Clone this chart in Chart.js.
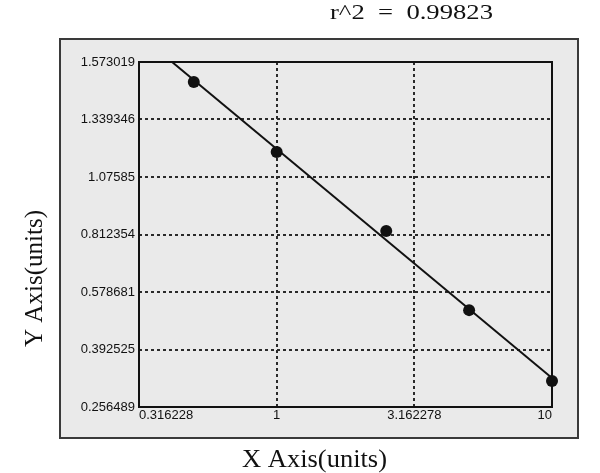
<!DOCTYPE html>
<html>
<head>
<meta charset="utf-8">
<script src="https://cdn.jsdelivr.net/npm/chart.js@4"></script>
<style>
  html, body { margin: 0; padding: 0; background: #fff; }
  #wrap { width: 600px; height: 473px; position: relative; }
</style>
</head>
<body>
<div id="wrap"><canvas id="curveChart"></canvas></div>
<script>
// Standard curve: log x axis, y axis labelled at uneven values spaced evenly
const xTickLabels = ['0.316228', '1', '3.162278', '10'];
const yTickLabels = ['0.256489', '0.392525', '0.578681', '0.812354', '1.07585', '1.339346', '1.573019'];
const xTickValues = xTickLabels.map(Number);
const yTickValues = yTickLabels.map(Number);

const concentration = [0.5, 1, 2.5, 5, 10];
const response = [1.492, 1.190, 0.828, 0.520, 0.318];

// fitted line
const fitX = [0.417, 10];
const fitY = [1.573019, 0.325];

const rSquared = 'r^2  =  0.99823';
const xTitle = 'X Axis(units)';
const yTitle = 'Y Axis(units)';

// y scale where every labelled value gets the same spacing, linear in between
class StepLinearScale extends Chart.LinearScale {
    static id = 'stepLinear';
    static defaults = Chart.LinearScale.defaults;
    determineDataLimits() {
        this.min = yTickValues[0];
        this.max = yTickValues[yTickValues.length - 1];
    }
    buildTicks() {
        return yTickValues.map(v => ({ value: v }));
    }
    toDecimal(v) {
        const t = yTickValues, n = t.length - 1;
        let i = 0;
        while (i < n - 1 && v > t[i + 1]) i++;
        return (i + (v - t[i]) / (t[i + 1] - t[i])) / n;
    }
    getPixelForValue(v) {
        return this.getPixelForDecimal(this.toDecimal(v));
    }
    getValueForPixel(p) {
        const t = yTickValues, n = t.length - 1;
        const d = Math.min(Math.max(this.getDecimalForPixel(p) * n, 0), n);
        const i = Math.min(Math.floor(d), n - 1);
        return t[i] + (d - i) * (t[i + 1] - t[i]);
    }
}
Chart.register(StepLinearScale);

function fittedText(ctx, text, x, y, font, width, angle) {
    ctx.save();
    ctx.font = font;
    const w = ctx.measureText(text).width;
    ctx.translate(x, y);
    ctx.rotate(angle || 0);
    ctx.scale(width / w, 1);
    ctx.fillStyle = '#111';
    ctx.textBaseline = 'alphabetic';
    ctx.textAlign = 'left';
    ctx.fillText(text, 0, 0);
    ctx.restore();
}

const framePlugin = {
    id: 'frame',
    beforeDraw(chart) {
        const ctx = chart.ctx;
        ctx.save();
        ctx.fillStyle = '#ffffff';
        ctx.fillRect(0, 0, chart.width, chart.height);
        ctx.fillStyle = '#eaeaea';
        ctx.fillRect(60, 39, 518, 399);
        ctx.strokeStyle = '#3a3a3a';
        ctx.lineWidth = 2;
        ctx.strokeRect(60, 39, 518, 399);
        ctx.restore();
    },
    beforeDatasetsDraw(chart) {
        const a = chart.chartArea, ctx = chart.ctx;
        ctx.save();
        ctx.strokeStyle = '#111';
        ctx.lineWidth = 2;
        ctx.strokeRect(a.left, a.top, a.right - a.left, a.bottom - a.top);
        ctx.restore();
    },
    afterDraw(chart) {
        const ctx = chart.ctx;
        const serif = '"Liberation Serif", "Times New Roman", serif';
        fittedText(ctx, rSquared, 330, 19, '22px ' + serif, 163);
        fittedText(ctx, xTitle, 242, 467, '25px ' + serif, 145);
        fittedText(ctx, yTitle, 42, 347, '25px ' + serif, 137, -Math.PI / 2);
    }
};

const tickFont = { family: '"Liberation Sans", Arial, sans-serif', size: 13 };

const ctx = document.getElementById('curveChart').getContext('2d');
const curveChart = new Chart(ctx, {
    type: 'scatter',
    data: {
        datasets: [{
            label: 'Standards',
            data: concentration.map((x, i) => ({ x: x, y: response[i] })),
            backgroundColor: '#111',
            borderColor: '#111',
            pointRadius: 6,
            pointBorderWidth: 0,
            clip: false
        }, {
            label: 'Fit',
            data: fitX.map((x, i) => ({ x: x, y: fitY[i] })),
            showLine: true,
            borderColor: '#111',
            borderWidth: 2,
            pointRadius: 0
        }]
    },
    options: {
        responsive: true,
        maintainAspectRatio: false,
        animation: false,
        layout: {
            padding: { left: 60, top: 62, right: 48, bottom: 36 }
        },
        plugins: {
            legend: { display: false },
            tooltip: { enabled: false },
            title: { display: false }
        },
        scales: {
            x: {
                type: 'logarithmic',
                bounds: 'data',
                min: xTickValues[0],
                max: xTickValues[xTickValues.length - 1],
                afterBuildTicks: s => { s.ticks = xTickValues.map(v => ({ value: v })); },
                afterFit: s => { s.height = 30; },
                border: { display: false, dash: [3, 3] },
                grid: {
                    color: '#2a2a2a',
                    lineWidth: 2,
                    drawTicks: false
                },
                ticks: {
                    autoSkip: false,
                    maxRotation: 0,
                    align: 'inner',
                    padding: 1,
                    color: '#111',
                    font: tickFont,
                    callback: (v, i) => xTickLabels[i]
                }
            },
            y: {
                type: 'stepLinear',
                afterFit: s => { s.width = 79; },
                border: { display: false, dash: [3, 3] },
                grid: {
                    color: '#2a2a2a',
                    lineWidth: 2,
                    drawTicks: false
                },
                ticks: {
                    autoSkip: false,
                    padding: 4,
                    color: '#111',
                    font: tickFont,
                    callback: (v, i) => yTickLabels[i]
                }
            }
        }
    },
    plugins: [framePlugin]
});
</script>
</body>
</html>
